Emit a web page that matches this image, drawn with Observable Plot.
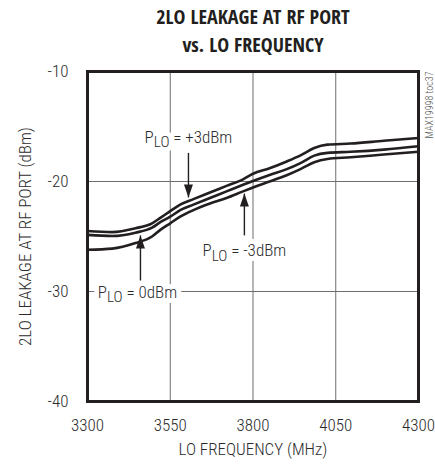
<!DOCTYPE html>
<html>
<head>
<meta charset="utf-8">
<script src="https://cdn.jsdelivr.net/npm/d3@7"></script>
<script src="https://cdn.jsdelivr.net/npm/@observablehq/plot@0.6"></script>
<style>
  body { margin: 0; background: #fff; }
  #chart { width: 435px; height: 464px; }
</style>
</head>
<body>
<div id="chart"></div>
<script>
// ---- data ----
const freq = [3300, 3375, 3445, 3495, 3520, 3550, 3580, 3620, 3670, 3720, 3770, 3800, 3850, 3900, 3945, 3985, 4025, 4095, 4195, 4300];
const plo_p3 = [-24.5, -24.6, -24.25, -23.8, -23.3, -22.7, -22.1, -21.6, -21.0, -20.4, -19.8, -19.3, -18.8, -18.2, -17.6, -16.95, -16.65, -16.55, -16.3, -16.05];
const plo_0 = [-24.85, -24.95, -24.65, -24.2, -23.7, -23.2, -22.6, -22.1, -21.5, -20.9, -20.3, -19.95, -19.4, -18.9, -18.3, -17.65, -17.4, -17.3, -17.1, -16.8];
const plo_m3 = [-26.2, -26.1, -25.6, -25.0, -24.4, -23.8, -23.2, -22.6, -22.0, -21.5, -20.9, -20.55, -20.0, -19.45, -18.85, -18.25, -17.95, -17.8, -17.55, -17.3];
const seriesNames = ["+3dBm", "0dBm", "-3dBm"];
const xTicks = [3300, 3550, 3800, 4050, 4300];
const yTicks = [-10, -20, -30, -40];
const titleLine1 = "2LO LEAKAGE AT RF PORT";
const titleLine2 = "vs. LO FREQUENCY";
const xLabel = "LO FREQUENCY (MHz)";
const yLabel = "2LO LEAKAGE AT RF PORT (dBm)";
const sideNote = "MAX19998 toc37";
// annotation labels (data coordinates)
const annLabel = ["= +3dBm", "= -3dBm", "= 0dBm"];
const annLabelX = [3605, 3774, 3451];
const annLabelY = [-16.0, -26.3, -30.1];
// arrows: x, tail y, tip y, direction
const arrX = [3605, 3774, 3460];
const arrY1 = [-17.4, -24.9, -29.0];
const arrY2 = [-21.45, -21.1, -24.9];
const arrDir = ["down", "up", "up"];

// ---- build tables ----
const valuesBySeries = [plo_p3, plo_0, plo_m3];
const lines = [];
seriesNames.forEach((s, i) => freq.forEach((f, j) => lines.push({series: s, f, v: valuesBySeries[i][j]})));
const labels = annLabel.map((t, i) => ({text: "PLO " + t, x: annLabelX[i], y: annLabelY[i]}));
const arrows = arrX.map((x, i) => ({x, y1: arrY1[i], y2: arrY2[i], dir: arrDir[i]}));

// elongated triangle symbol pointing up
const arrowHead = {
  draw(ctx, size) {
    const r = Math.sqrt(size / Math.PI);
    const h = r * 2.6, w = r * 1.8;
    ctx.moveTo(0, -h / 2);
    ctx.lineTo(w / 2, h / 2);
    ctx.lineTo(-w / 2, h / 2);
    ctx.closePath();
  }
};

const font = "'Roboto Condensed', 'Liberation Sans Narrow', 'DejaVu Sans Condensed', sans-serif";
const titleFont = "'Open Sans Condensed', 'Roboto Condensed', sans-serif";
const ink = "#231f20";
const txt = "#2b2b2b";

const chart = Plot.plot({
  width: 435,
  height: 464,
  marginTop: 71,
  marginBottom: 63,
  marginLeft: 87,
  marginRight: 17,
  style: {fontFamily: font, fontSize: "17px", fontWeight: 300, color: txt, background: "#fff"},
  x: {domain: [3300, 4300]},
  y: {domain: [-40, -10]},
  marks: [
    Plot.gridX(xTicks, {stroke: "#6d6e70", strokeOpacity: 1, strokeWidth: 1}),
    Plot.gridY(yTicks, {stroke: "#6d6e70", strokeOpacity: 1, strokeWidth: 1}),
    Plot.axisX({ticks: xTicks, tickSize: 0, tickPadding: 17, label: null, fontSize: 17, fontWeight: 300, tickFormat: d => String(d), fill: txt}),
    Plot.axisY({ticks: yTicks, tickSize: 0, tickPadding: 19, label: null, fontSize: 17, fontWeight: 300, tickFormat: d => String(d), fill: txt}),
    // white halo behind the annotation labels (breaks the grid lines)
    Plot.text(labels, {x: "x", y: "y", text: "text", className: "plo", fontSize: 17, fontWeight: 300, fill: "white",
      stroke: "white", strokeWidth: 10, textAnchor: "middle", lineAnchor: "middle"}),
    Plot.text(labels, {x: "x", y: "y", text: "text", className: "plo", fontSize: 17, fontWeight: 300, fill: txt,
      textAnchor: "middle", lineAnchor: "middle"}),
    Plot.line(lines, {x: "f", y: "v", z: "series", stroke: ink, strokeWidth: 2.6, curve: "monotone-x"}),
    Plot.link(arrows, {x1: "x", x2: "x", y1: "y1", y2: "y2", stroke: ink, strokeWidth: 1.4}),
    Plot.dot(arrows.filter(a => a.dir === "up"), {x: "x", y: "y2", symbol: arrowHead, r: 5, fill: ink, stroke: "none", dy: 6.5}),
    Plot.dot(arrows.filter(a => a.dir === "down"), {x: "x", y: "y2", symbol: arrowHead, r: 5, fill: ink, stroke: "none", dy: -6.5, rotate: 180}),
    Plot.frame({stroke: ink, strokeWidth: 3}),
    Plot.text([titleLine1], {frameAnchor: "top", dy: -53.5, lineAnchor: "middle", fontFamily: titleFont, fontSize: 20, fontWeight: "bold", fill: ink}),
    Plot.text([titleLine2], {frameAnchor: "top", dy: -26, lineAnchor: "middle", fontFamily: titleFont, fontSize: 20, fontWeight: "bold", fill: ink}),
    Plot.text([xLabel], {frameAnchor: "bottom", dy: 48, lineAnchor: "middle", fontSize: 17, fontWeight: 300, fill: txt}),
    Plot.text([yLabel], {frameAnchor: "left", dx: -62, rotate: -90, textAnchor: "middle", lineAnchor: "middle", fontSize: 17, fontWeight: 300, fill: txt}),
    Plot.text([sideNote], {frameAnchor: "top-right", dx: 11, dy: 0, rotate: -90, textAnchor: "end", lineAnchor: "middle", fontSize: 10, fontWeight: 300, fill: "#555"})
  ]
});

// subscript "LO" in the annotation labels
d3.select(chart).selectAll("g.plo text").each(function() {
  const t = this.textContent;
  const rest = t.slice(4);
  const sel = d3.select(this);
  sel.text(null);
  sel.append("tspan").text("P");
  sel.append("tspan").attr("dy", "0.28em").attr("font-size", "0.9em").text("LO");
  sel.append("tspan").attr("dy", "-0.25em").text(" " + rest);
});

document.getElementById("chart").appendChild(chart);
</script>
</body>
</html>
